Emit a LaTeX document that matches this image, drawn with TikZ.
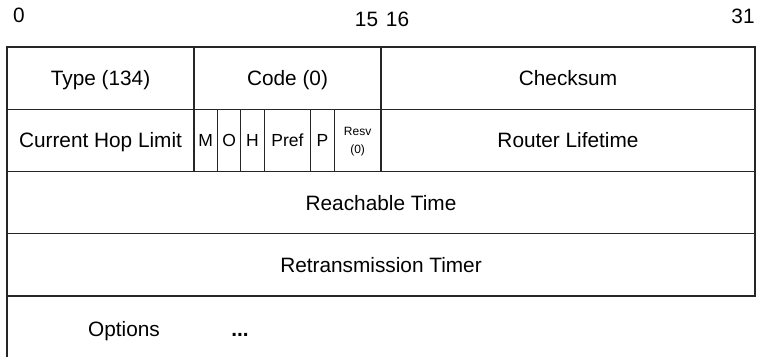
\documentclass[tikz,border=0pt]{standalone}
\usepackage{fontspec}
\setmainfont{Liberation Sans}
\usetikzlibrary{positioning}

\newlength{\bitw}\setlength{\bitw}{23.375pt}
\newlength{\rowh}\setlength{\rowh}{62.25pt}

\tikzset{
  field/.style={rectangle, draw=black!85, line width=1.1pt, inner sep=0pt, outer sep=0pt,
                minimum height=\rowh, text height=15pt, text depth=0pt,
                font=\fontsize{20.8}{25}\selectfont},
  bits/.style={minimum width=#1*\bitw},
  flag/.style={field, text height=12.6pt, font=\fontsize{17.5}{21}\selectfont},
  resv/.style={field, align=center, text height=26.6pt, font=\fontsize{12}{18}\selectfont},
  bitnum/.style={inner sep=0pt, font=\fontsize{20.8}{25}\selectfont},
  opt/.style={inner sep=0pt, anchor=base, font=\fontsize{20.8}{25}\selectfont},
  more/.style={opt, font=\fontsize{20.8}{25}\selectfont\bfseries},
  border/.style={draw=black!85, line width=1.1pt},
}

\begin{document}
\begin{tikzpicture}

  \useasboundingbox (-7pt,47pt) rectangle (750pt,-310pt);

  % =====================================================
  % BIT NUMBERS
  % =====================================================

  \node[bitnum] (b0) at (12pt,31.5pt) {0};
  \node[bitnum] (b15) at (359.5pt,27.5pt) {15};
  \node[bitnum] (b16) at (390.5pt,27.5pt) {16};
  \node[bitnum] (b31) at (736pt,30.5pt) {31};


  % =====================================================
  % TYPE / CODE / CHECKSUM
  % =====================================================

  \node[field, bits=8, anchor=north west] (type) at (0,0) {Type (134)};

  \node[field, bits=8, right=0pt of type] (code) {Code (0)};

  \node[field, bits=16, right=0pt of code] (csum) {Checksum};


  % =====================================================
  % HOP LIMIT / FLAGS / LIFETIME
  % =====================================================

  \node[field, bits=8, below=0pt of type] (hop) {Current Hop Limit};

  \node[flag, bits=1, right=0pt of hop] (mflag) {M};
  \node[flag, bits=1, right=0pt of mflag] (oflag) {O};
  \node[flag, bits=1, right=0pt of oflag] (hflag) {H};
  \node[flag, bits=2, right=0pt of hflag] (pref) {Pref};
  \node[flag, bits=1, right=0pt of pref] (pflag) {P};
  \node[resv, bits=2, right=0pt of pflag] (resv) {Resv\\(0)};

  \node[field, bits=16, right=0pt of resv] (life) {Router Lifetime};


  % =====================================================
  % TIMERS
  % =====================================================

  \node[field, bits=32, anchor=north west] (reach) at (hop.south west) {Reachable Time};

  \node[field, bits=32, below=0pt of reach] (retrans) {Retransmission Timer};


  % =====================================================
  % OPTIONS
  % =====================================================

  \coordinate (optend) at ([yshift=-61pt]retrans.south west);

  \draw[border]
    (retrans.south west) -- (optend);

  \node[opt] (opts) at ([xshift=117pt, yshift=-40pt]retrans.south west) {Options};

  \node[more] (dots) at ([xshift=233pt, yshift=-40pt]retrans.south west) {...};

\end{tikzpicture}
\end{document}
